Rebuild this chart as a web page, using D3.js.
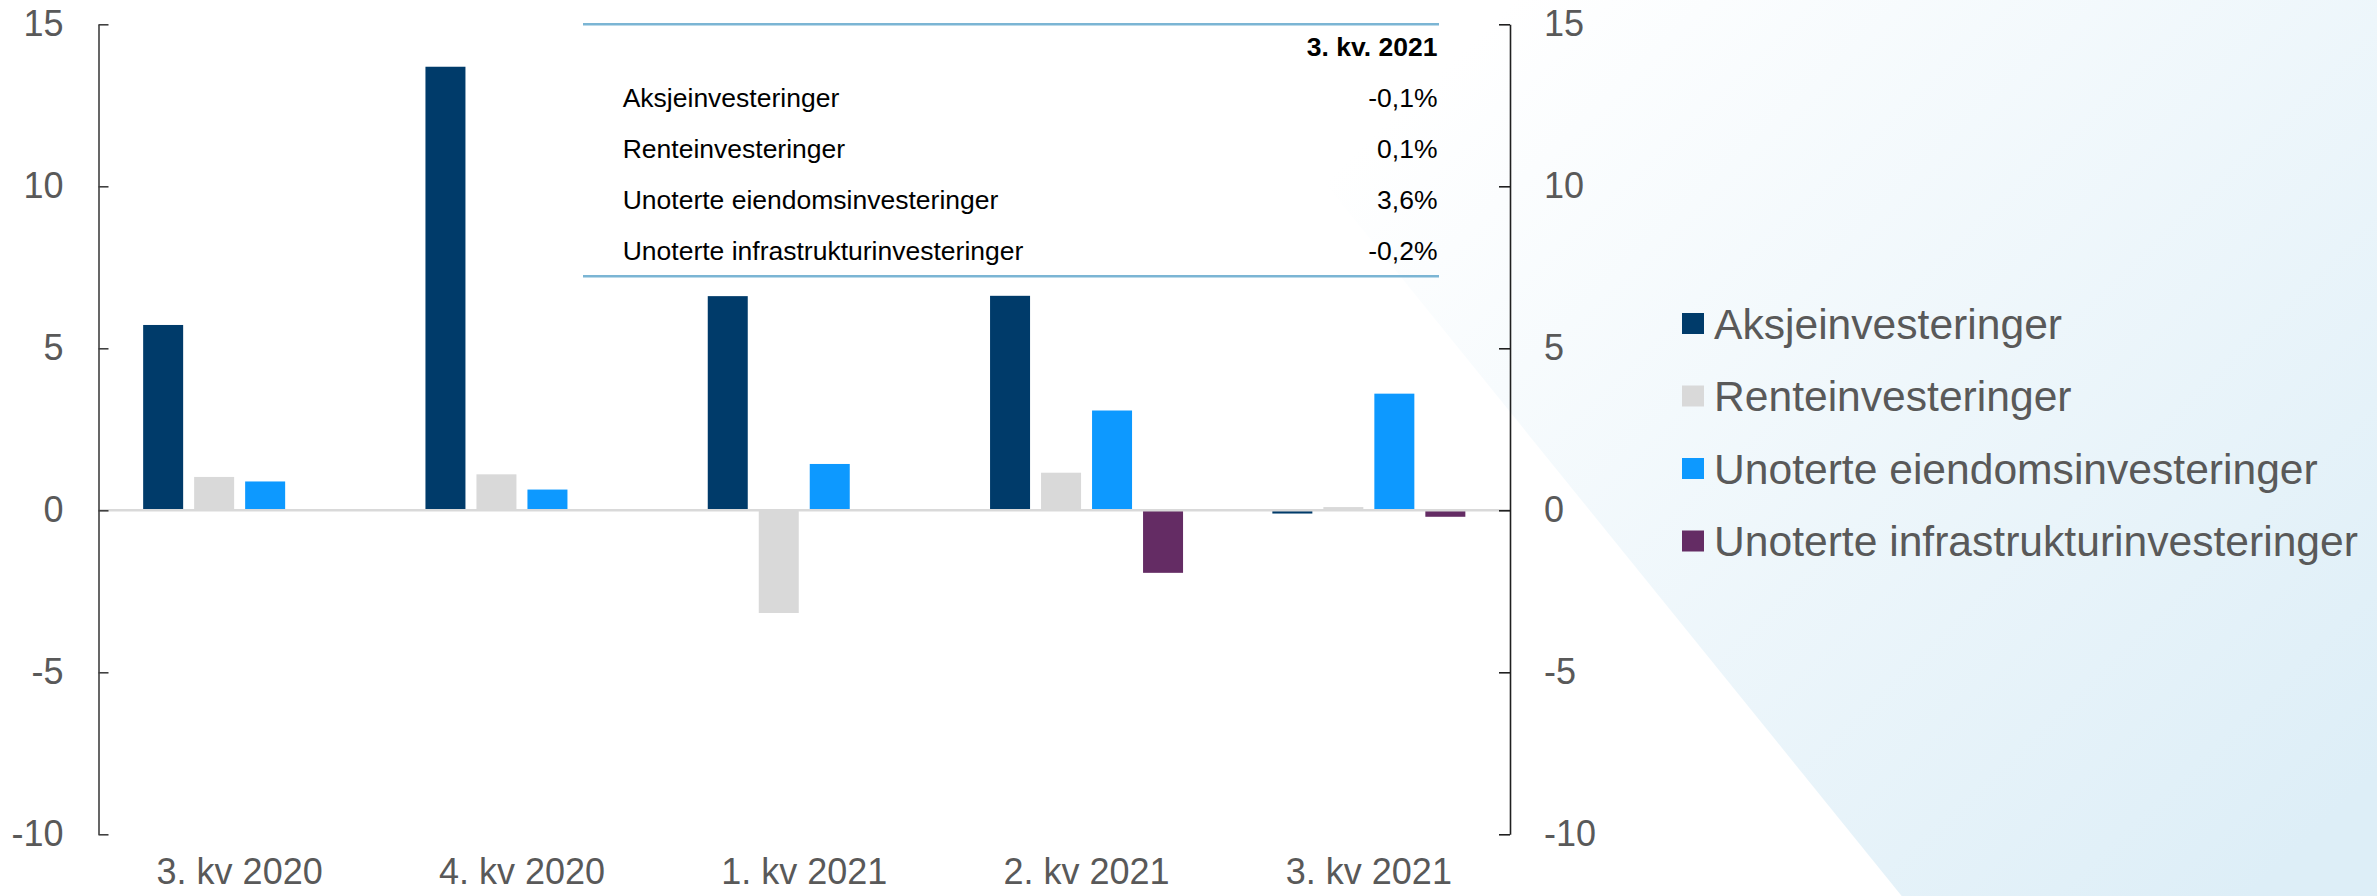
<!DOCTYPE html>
<html>
<head>
<meta charset="utf-8">
<script src="https://cdn.jsdelivr.net/npm/d3@7"></script>
<style>
  html, body { margin: 0; padding: 0; background: #ffffff; }
  svg { display: block; }
  text { font-family: "Liberation Sans", Arial, sans-serif; }
</style>
</head>
<body>
<svg id="chart" width="2377" height="896"></svg>
<script>
// ---------- data ----------
const categories = ["3. kv 2020", "4. kv 2020", "1. kv 2021", "2. kv 2021", "3. kv 2021"];
const seriesNames = ["Aksjeinvesteringer", "Renteinvesteringer", "Unoterte eiendomsinvesteringer", "Unoterte infrastrukturinvesteringer"];
const aksje      = [5.72, 13.69, 6.61, 6.62, -0.1];
const rente      = [1.03, 1.11, -3.17, 1.16, 0.1];
const eiendom    = [0.89, 0.64, 1.43, 3.08, 3.6];
const infra      = [null, null, null, -1.93, -0.2];
const seriesColors = ["#003B6A", "#D9D9D9", "#0D99FF", "#642C64"];
const yTicks = [15, 10, 5, 0, -5, -10];
const yTickLabels = ["15", "10", "5", "0", "-5", "-10"];
const tableHeader = "3. kv. 2021";
const tableLabels = ["Aksjeinvesteringer", "Renteinvesteringer", "Unoterte eiendomsinvesteringer", "Unoterte infrastrukturinvesteringer"];
const tableValues = ["-0,1%", "0,1%", "3,6%", "-0,2%"];

const seriesValues = [aksje, rente, eiendom, infra];

// ---------- layout ----------
const W = 2377, H = 896;
const plot = { left: 98.5, right: 1510, top: 24.3, bottom: 834.3 };
const svg = d3.select("#chart");
const FONT = "'Liberation Sans', Arial, sans-serif";

// background shape with gradient
const defs = svg.append("defs");
const grad = defs.append("linearGradient").attr("id", "bg")
  .attr("gradientUnits", "userSpaceOnUse")
  .attr("x1", 1450).attr("y1", 60).attr("x2", 2250).attr("y2", 896);
grad.append("stop").attr("offset", 0).attr("stop-color", "#ffffff");
grad.append("stop").attr("offset", 1).attr("stop-color", "#ddeef7");
const edge = yy => 1700 + (yy - 646.7) * 0.809;
svg.append("polygon")
  .attr("points", [[edge(0), 0], [W, 0], [W, H], [edge(H), H]].map(p => p.join(",")).join(" "))
  .attr("fill", "url(#bg)");

// scales
const y = d3.scaleLinear().domain([-10, 15]).range([plot.bottom, plot.top]);
const x0 = d3.scaleBand().domain(categories).range([plot.left, plot.right])
  .paddingInner(0.2774).paddingOuter(0.1387);
const x1 = d3.scaleBand().domain(d3.range(seriesNames.length)).range([0, x0.bandwidth()])
  .paddingInner(0.2157).paddingOuter(0.1078);

// bars
const barData = [];
categories.forEach((c, ci) => {
  seriesValues.forEach((arr, si) => {
    const v = arr[ci];
    if (v !== null && v !== undefined) barData.push({ c, si, v });
  });
});
svg.append("g").selectAll("rect").data(barData).join("rect")
  .attr("x", d => x0(d.c) + x1(d.si))
  .attr("width", x1.bandwidth())
  .attr("y", d => y(Math.max(0, d.v)))
  .attr("height", d => Math.abs(y(d.v) - y(0)))
  .attr("fill", d => seriesColors[d.si]);

// zero line
svg.append("line")
  .attr("x1", plot.left).attr("x2", plot.right)
  .attr("y1", y(0)).attr("y2", y(0))
  .attr("stroke", "#D9D9D9").attr("stroke-width", 2.5);

const fmt = d => yTickLabels[yTicks.indexOf(d)];

// left axis
const axL = svg.append("g").attr("transform", `translate(${plot.left},0)`)
  .call(d3.axisLeft(y).tickValues(yTicks).tickSizeInner(-10).tickSizeOuter(0).tickPadding(35).tickFormat(fmt));
axL.select(".domain").attr("stroke", "#404040").attr("stroke-width", 1.6);
axL.selectAll(".tick line").attr("stroke", "#404040").attr("stroke-width", 1.6);
axL.selectAll(".tick text").attr("fill", "#595959").attr("font-size", 36).attr("font-family", FONT);

// right axis
const axR = svg.append("g").attr("transform", `translate(${plot.right},0)`)
  .call(d3.axisRight(y).tickValues(yTicks).tickSizeInner(-11).tickSizeOuter(0).tickPadding(34).tickFormat(fmt));
axR.select(".domain").attr("stroke", "#202020").attr("stroke-width", 1.6);
axR.selectAll(".tick line").attr("stroke", "#202020").attr("stroke-width", 1.6);
axR.selectAll(".tick text").attr("fill", "#595959").attr("font-size", 36).attr("font-family", FONT);

// category labels
const axB = svg.append("g").attr("transform", `translate(0,${plot.bottom})`)
  .call(d3.axisBottom(x0).tickSize(0).tickPadding(24));
axB.select(".domain").remove();
axB.selectAll(".tick text").attr("fill", "#595959").attr("font-size", 36).attr("font-family", FONT);

// table overlay
const table = { left: 583, right: 1439, top: 24.3, bottom: 276.3, labelX: 622.7, valueX: 1437.5, headerY: 56, rowY0: 107, rowStep: 51 };
svg.append("line").attr("x1", table.left).attr("x2", table.right).attr("y1", table.top).attr("y2", table.top)
  .attr("stroke", "#7BB5D4").attr("stroke-width", 2.5);
svg.append("line").attr("x1", table.left).attr("x2", table.right).attr("y1", table.bottom).attr("y2", table.bottom)
  .attr("stroke", "#7BB5D4").attr("stroke-width", 2.5);
svg.append("text").attr("x", table.valueX).attr("y", table.headerY).attr("text-anchor", "end")
  .attr("font-size", 26.5).attr("font-weight", "bold").attr("fill", "#000").text(tableHeader);
const rows = svg.append("g").selectAll("g").data(tableLabels).join("g");
rows.append("text").attr("x", table.labelX).attr("y", (d, i) => table.rowY0 + i * table.rowStep)
  .attr("font-size", 26.5).attr("fill", "#000").text(d => d);
rows.append("text").attr("x", table.valueX).attr("y", (d, i) => table.rowY0 + i * table.rowStep)
  .attr("text-anchor", "end").attr("font-size", 26.5).attr("fill", "#000").text((d, i) => tableValues[i]);

// legend
const legend = { x: 1682, textX: 1714, y0: 323.5, step: 72.5, sw: 22, sh: 21 };
const lg = svg.append("g").selectAll("g").data(seriesNames).join("g")
  .attr("transform", (d, i) => `translate(0,${legend.y0 + i * legend.step})`);
lg.append("rect").attr("x", legend.x).attr("y", -legend.sh / 2).attr("width", legend.sw).attr("height", legend.sh)
  .attr("fill", (d, i) => seriesColors[i]);
lg.append("text").attr("x", legend.textX).attr("y", 15).attr("font-size", 42.6).attr("fill", "#595959").text(d => d);
</script>
</body>
</html>
